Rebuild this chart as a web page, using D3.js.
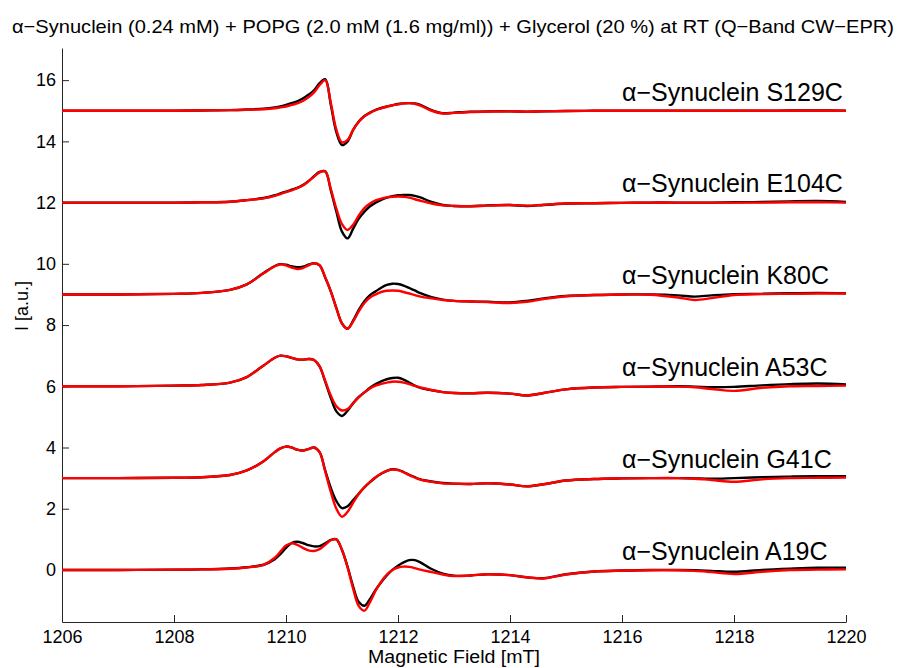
<!DOCTYPE html>
<html>
<head>
<meta charset="utf-8">
<script src="https://cdn.jsdelivr.net/npm/d3@7"></script>
<style>
  html, body { margin: 0; padding: 0; background: #fff; }
  svg { display: block; font-family: "Liberation Sans", Arial, Helvetica, sans-serif; }
</style>
</head>
<body>
<svg id="chart" width="898" height="668"></svg>
<script>
// Magnetic field grid (mT) shared by every spectrum
const field = [1206, 1207, 1208, 1208.5, 1209, 1209.3, 1209.6,
  1209.8, 1209.9, 1210.0, 1210.1, 1210.2, 1210.3, 1210.4, 1210.5, 1210.6, 1210.7,
  1210.8, 1210.9, 1211.0, 1211.1, 1211.2, 1211.3, 1211.4, 1211.5, 1211.6, 1211.7,
  1211.8, 1211.9, 1212.0, 1212.1, 1212.2, 1212.3, 1212.4,
  1212.6, 1212.8, 1213.0, 1213.3, 1213.6, 1214.0, 1214.3, 1214.6, 1215.0, 1215.5,
  1216.0, 1216.5, 1217.0, 1217.3, 1217.6, 1218.0, 1218.5, 1219.0, 1219.5, 1220];

// Mutant names and vertical stacking offsets
const mutants = ["S129C", "E104C", "K80C", "A53C", "G41C", "A19C"];
const offsets = [15, 12, 9, 6, 3, 0];

// Experimental spectra (black), relative to their offset
const s129cExp = [0,0,0,0.01,0.02,0.04,0.07,
  0.11,0.14,0.19,0.25,0.31,0.40,0.52,0.67,0.90,1.03,
  0.20,-0.70,-1.12,-1.0,-0.62,-0.35,-0.17,-0.06,0.03,0.09,0.14,0.18,0.22,0.24,0.25,0.24,0.19,
  0.02,-0.08,-0.06,-0.03,-0.02,-0.02,-0.03,-0.02,-0.01,0,0,0,0,0,0,0,0,0.01,0.01,0];
const e104cExp = [0,0,0,0.01,0.03,0.08,0.15,
  0.24,0.30,0.36,0.42,0.48,0.57,0.70,0.86,1.0,1.02,
  0.40,-0.30,-0.95,-1.17,-0.85,-0.52,-0.30,-0.12,0.0,0.09,0.16,0.21,0.24,0.25,0.25,0.22,0.17,
  0.02,-0.08,-0.11,-0.12,-0.09,-0.08,-0.11,-0.08,-0.03,-0.02,-0.01,0,0,0,0,0.01,0.02,0.04,0.05,0.02];
const k80cExp = [0,0,0.02,0.05,0.15,0.33,0.70,
  0.93,0.99,0.97,0.92,0.89,0.91,0.97,1.02,0.95,0.55,
  0.10,-0.45,-0.95,-1.12,-0.85,-0.50,-0.22,-0.02,0.10,0.22,0.31,0.35,0.34,0.29,0.21,0.13,0.04,
  -0.09,-0.17,-0.21,-0.23,-0.24,-0.26,-0.21,-0.13,-0.05,-0.02,0,0,-0.03,-0.07,-0.03,0.01,0.02,0.04,0.05,0.04];
const a53cExp = [0,0,0.02,0.04,0.12,0.30,0.68,
  0.93,1.0,0.98,0.93,0.88,0.87,0.89,0.86,0.65,0.15,
  -0.38,-0.82,-0.97,-0.80,-0.55,-0.35,-0.20,-0.05,0.07,0.16,0.23,0.27,0.28,0.22,0.12,0.02,-0.05,
  -0.13,-0.19,-0.22,-0.23,-0.21,-0.24,-0.30,-0.22,-0.10,-0.04,-0.02,-0.01,0,-0.01,-0.03,-0.02,0.03,0.07,0.09,0.06];
const g41cExp = [0,0,0.01,0.03,0.10,0.25,0.55,
  0.85,0.97,1.03,1.0,0.93,0.90,0.95,1.0,0.85,0.25,
  -0.32,-0.75,-0.98,-0.92,-0.72,-0.50,-0.30,-0.13,0.02,0.14,0.24,0.29,0.27,0.20,0.11,0.03,-0.04,
  -0.11,-0.16,-0.18,-0.19,-0.17,-0.21,-0.27,-0.20,-0.08,-0.03,-0.01,0,0,-0.01,-0.02,0,0.03,0.05,0.06,0.06];
const a19cExp = [0,0,0.01,0.02,0.05,0.09,0.17,
  0.35,0.52,0.72,0.88,0.92,0.88,0.81,0.77,0.78,0.87,
  0.98,1.0,0.65,0.10,-0.55,-1.05,-1.17,-0.95,-0.65,-0.40,-0.18,0.0,0.14,0.25,0.32,0.32,0.25,
  0.03,-0.12,-0.19,-0.18,-0.14,-0.17,-0.24,-0.27,-0.14,-0.05,-0.02,0,0,-0.01,-0.03,-0.06,0.0,0.04,0.07,0.07];

// Simulated spectra (red), relative to their offset
const s129cSim = [0,0,0,0.01,0.02,0.03,0.05,
  0.08,0.11,0.14,0.19,0.24,0.32,0.44,0.60,0.84,1.0,
  0.26,-0.62,-1.03,-0.95,-0.62,-0.36,-0.18,-0.07,0.02,0.08,0.13,0.18,0.21,0.24,0.25,0.23,0.17,
  0.0,-0.09,-0.07,-0.04,-0.03,-0.02,-0.03,-0.02,-0.01,0,0,0,0,0,0,0,0,0,0,0];
const e104cSim = [0,0,0,0.01,0.03,0.08,0.14,
  0.22,0.28,0.34,0.40,0.47,0.56,0.69,0.85,0.99,1.02,
  0.45,-0.20,-0.70,-0.89,-0.72,-0.42,-0.18,-0.03,0.07,0.13,0.17,0.19,0.20,0.19,0.16,0.11,0.06,
  -0.03,-0.09,-0.11,-0.12,-0.10,-0.08,-0.10,-0.07,-0.03,-0.02,-0.01,0,0,0,0,0,0,0.01,0.01,0];
const k80cSim = [0,0,0.02,0.05,0.15,0.33,0.69,
  0.92,0.98,0.95,0.88,0.83,0.86,0.95,1.02,0.96,0.56,
  0.10,-0.45,-0.95,-1.12,-0.88,-0.55,-0.28,-0.10,0.0,0.08,0.12,0.13,0.12,0.08,0.03,-0.02,-0.07,
  -0.13,-0.18,-0.21,-0.23,-0.25,-0.28,-0.24,-0.15,-0.06,-0.02,0,-0.01,-0.10,-0.18,-0.12,-0.02,0.01,0.02,0.03,0.03];
const a53cSim = [0,0,0.02,0.04,0.12,0.30,0.68,
  0.93,1.0,0.98,0.93,0.88,0.87,0.89,0.86,0.65,0.18,
  -0.30,-0.65,-0.79,-0.74,-0.55,-0.36,-0.20,-0.07,0.02,0.08,0.12,0.15,0.15,0.12,0.07,0.01,-0.04,
  -0.12,-0.19,-0.22,-0.23,-0.21,-0.24,-0.30,-0.22,-0.10,-0.04,-0.02,-0.01,-0.01,-0.03,-0.09,-0.15,-0.05,0.0,0.01,0.02];
const g41cSim = [0,0,0.01,0.03,0.10,0.25,0.55,
  0.85,0.97,1.03,1.0,0.93,0.90,0.95,1.0,0.85,0.22,
  -0.45,-1.0,-1.26,-1.10,-0.80,-0.52,-0.30,-0.12,0.03,0.15,0.24,0.28,0.26,0.19,0.10,0.02,-0.05,
  -0.12,-0.17,-0.18,-0.19,-0.17,-0.21,-0.27,-0.20,-0.08,-0.03,-0.01,0,0,-0.02,-0.06,-0.12,-0.04,0.0,0.01,0.02];
const a19cSim = [0,0,0.01,0.02,0.04,0.08,0.17,
  0.40,0.60,0.80,0.87,0.82,0.72,0.64,0.62,0.68,0.82,
  0.97,1.0,0.65,0.08,-0.62,-1.18,-1.33,-1.05,-0.68,-0.38,-0.15,0.0,0.08,0.11,0.10,0.06,0.01,
  -0.07,-0.15,-0.20,-0.18,-0.14,-0.17,-0.24,-0.28,-0.15,-0.05,-0.02,-0.01,-0.01,-0.03,-0.07,-0.13,-0.06,0.0,0.01,0.02];

const experimental = [s129cExp, e104cExp, k80cExp, a53cExp, g41cExp, a19cExp];
const simulated = [s129cSim, e104cSim, k80cSim, a53cSim, g41cSim, a19cSim];

// Axis ticks
const xTicks = [1206, 1208, 1210, 1212, 1214, 1216, 1218, 1220];
const yTicks = [0, 2, 4, 6, 8, 10, 12, 14, 16];

const titleText = "\u03B1\u2212Synuclein (0.24 mM) + POPG (2.0 mM (1.6 mg/ml)) + Glycerol (20 %) at RT (Q\u2212Band CW\u2212EPR)";

const svg = d3.select("#chart");
const W = 898, H = 668;
const plot = { left: 62, right: 846, top: 48, bottom: 622 };

svg.append("rect").attr("width", W).attr("height", H).attr("fill", "#fff");

const x = d3.scaleLinear().domain([1206, 1220]).range([plot.left, plot.right]);
const y = d3.scaleLinear().domain([-1.7, 17.05]).range([plot.bottom, plot.top]);

const axisColor = "#262626";

// Bottom axis, ticks pointing inward
const gx = svg.append("g")
  .attr("transform", `translate(0,${plot.bottom})`)
  .call(d3.axisBottom(x).tickValues(xTicks).tickFormat(d3.format("d"))
    .tickSizeInner(-7).tickSizeOuter(0).tickPadding(8));

// Left axis, ticks pointing inward
const gy = svg.append("g")
  .attr("transform", `translate(${plot.left},0)`)
  .call(d3.axisLeft(y).tickValues(yTicks).tickFormat(d3.format("d"))
    .tickSizeInner(-7).tickSizeOuter(0).tickPadding(6));

[gx, gy].forEach(g => {
  g.select(".domain").attr("stroke", axisColor).attr("stroke-width", 1);
  g.selectAll(".tick line").attr("stroke", axisColor).attr("stroke-width", 1);
  g.selectAll(".tick text").attr("fill", "#000")
    .attr("font-size", 18).attr("font-family", "Liberation Sans, Arial, sans-serif");
});

// Spectra
const line = d3.line()
  .x((d, i) => x(field[i]))
  .curve(d3.curveCatmullRom.alpha(0.5));

const traces = svg.append("g");
mutants.forEach((m, k) => {
  const off = offsets[k];
  traces.append("path")
    .attr("d", line.y(v => y(v + off))(experimental[k]))
    .attr("fill", "none").attr("stroke", "#000").attr("stroke-width", 2.4)
    .attr("stroke-linejoin", "round");
  traces.append("path")
    .attr("d", line.y(v => y(v + off))(simulated[k]))
    .attr("fill", "none").attr("stroke", "#ff0000").attr("stroke-width", 2.4)
    .attr("stroke-linejoin", "round");
});

// Mutant labels
svg.append("g").selectAll("text")
  .data(mutants)
  .join("text")
  .attr("x", x(1216.0))
  .attr("y", (d, i) => y(offsets[i] + 0.33))
  .attr("font-size", 25)
  .attr("fill", "#000")
  .text(d => "\u03B1\u2212Synuclein " + d);

// Title
svg.append("text")
  .attr("x", 453).attr("y", 33)
  .attr("text-anchor", "middle")
  .attr("font-size", 19)
  .attr("textLength", 882)
  .attr("lengthAdjust", "spacingAndGlyphs")
  .attr("fill", "#000")
  .text(titleText);

// Axis labels
svg.append("text")
  .attr("x", x(1213)).attr("y", 663)
  .attr("text-anchor", "middle")
  .attr("font-size", 17.5)
  .attr("textLength", 172)
  .attr("lengthAdjust", "spacingAndGlyphs")
  .attr("fill", "#000")
  .text("Magnetic Field [mT]");

svg.append("text")
  .attr("transform", "translate(28,306) rotate(-90)")
  .attr("text-anchor", "middle")
  .attr("font-size", 18)
  .attr("fill", "#000")
  .text("I [a.u.]");
</script>
</body>
</html>
